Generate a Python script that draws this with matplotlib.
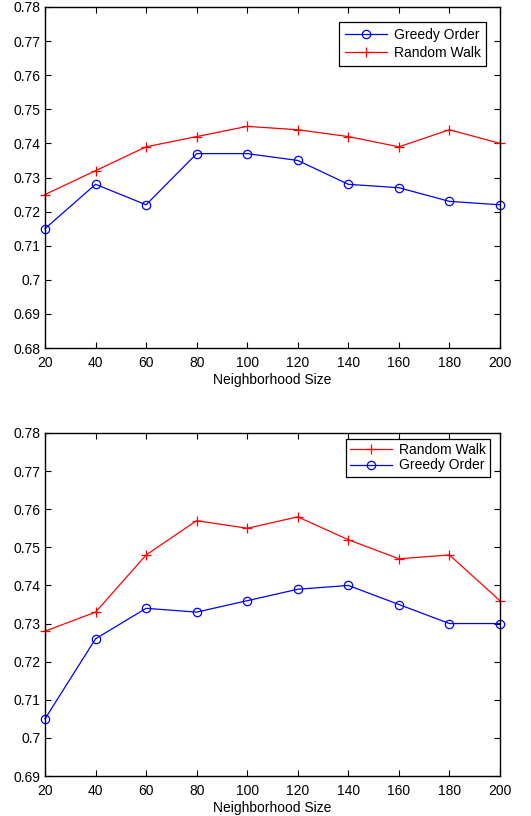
import matplotlib
matplotlib.use("Agg")
import matplotlib.pyplot as plt

plt.rcParams['font.family'] = ['Liberation Sans', 'DejaVu Sans']
plt.rcParams['font.size'] = 10

sizes = [20, 40, 60, 80, 100, 120, 140, 160, 180, 200]
top_greedy = [0.715, 0.728, 0.722, 0.737, 0.737, 0.735, 0.728, 0.727, 0.723, 0.722]
top_random = [0.725, 0.732, 0.739, 0.742, 0.745, 0.744, 0.742, 0.739, 0.744, 0.740]
bot_random = [0.728, 0.733, 0.748, 0.757, 0.755, 0.758, 0.752, 0.747, 0.748, 0.736]
bot_greedy = [0.705, 0.726, 0.734, 0.733, 0.736, 0.739, 0.740, 0.735, 0.730, 0.730]
top_yticks = [0.68, 0.69, 0.70, 0.71, 0.72, 0.73, 0.74, 0.75, 0.76, 0.77, 0.78]
top_ylabels = ['0.68', '0.69', '0.7', '0.71', '0.72', '0.73', '0.74', '0.75', '0.76', '0.77', '0.78']
bot_yticks = [0.69, 0.70, 0.71, 0.72, 0.73, 0.74, 0.75, 0.76, 0.77, 0.78]
bot_ylabels = ['0.69', '0.7', '0.71', '0.72', '0.73', '0.74', '0.75', '0.76', '0.77', '0.78']
xlabel = 'Neighborhood Size'

fig = plt.figure(figsize=(5.31, 8.16), dpi=100)
ax1 = fig.add_axes([45/531, 1 - 348/816, 455/531, 341/816])
ax2 = fig.add_axes([45/531, 1 - 776/816, 455/531, 343/816])

def style(ax, yticks, ylabels):
    ax.set_xlim(20, 200)
    ax.set_xticks(sizes)
    ax.set_yticks(yticks)
    ax.set_yticklabels(ylabels)
    ax.set_ylim(yticks[0], yticks[-1])
    ax.tick_params(direction='in', length=4, width=0.8, top=True, right=True,
                   labelsize=10, colors='black')
    ax.tick_params(axis='x', pad=6)
    ax.tick_params(axis='y', pad=3)
    for s in ax.spines.values():
        s.set_linewidth(1.0)
    ax.set_xlabel(xlabel, fontsize=10, labelpad=2)

kw_g = dict(color='#0000ff', marker='o', markersize=6, markerfacecolor='none',
            markeredgewidth=0.9, linewidth=0.9, clip_on=False)
kw_r = dict(color='#ff0000', marker='+', markersize=7, markeredgewidth=0.9,
            linewidth=0.9, clip_on=False)

ax1.plot(sizes, top_greedy, label='Greedy Order', **kw_g)
ax1.plot(sizes, top_random, label='Random Walk', **kw_r)
style(ax1, top_yticks, top_ylabels)
leg1 = ax1.legend(loc='upper right', bbox_to_anchor=(0.9695, 0.955),
                  fancybox=False, edgecolor='black', framealpha=1, fontsize=10,
                  handlelength=3.0, handletextpad=0.5, borderpad=0.4,
                  labelspacing=0.3, borderaxespad=0)
leg1.get_frame().set_linewidth(0.9)

ax2.plot(sizes, bot_random, label='Random Walk', **kw_r)
ax2.plot(sizes, bot_greedy, label='Greedy Order', **kw_g)
style(ax2, bot_yticks, bot_ylabels)
leg2 = ax2.legend(loc='upper right', bbox_to_anchor=(0.978, 0.983),
                  fancybox=False, edgecolor='black', framealpha=1, fontsize=10,
                  handlelength=3.0, handletextpad=0.5, borderpad=0.3,
                  labelspacing=0.1, borderaxespad=0)
leg2.get_frame().set_linewidth(0.9)

fig.savefig('out.png', dpi=100)
